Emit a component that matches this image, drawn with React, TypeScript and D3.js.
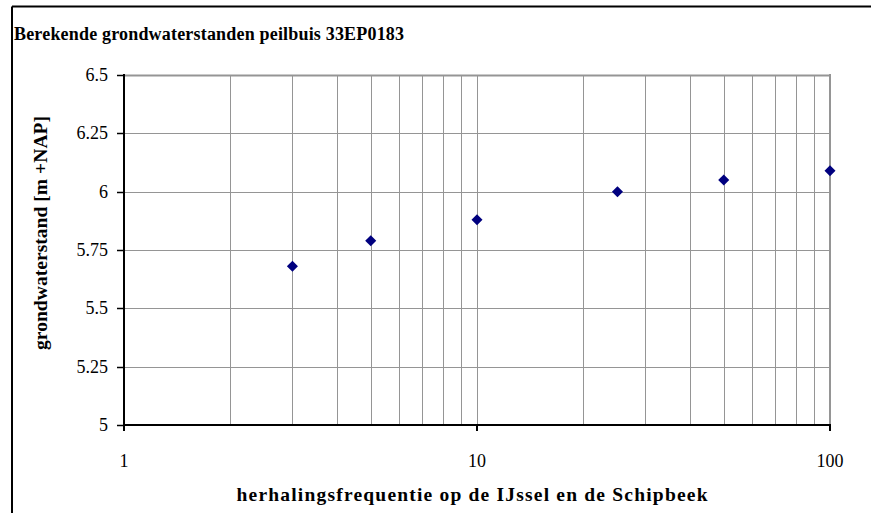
import React from "react";
import * as d3 from "d3";

const frequencies = [3, 5, 10, 25, 50, 100];
const levels = [5.68, 5.79, 5.88, 6.0, 6.05, 6.09];
const yTicks = [5, 5.25, 5.5, 5.75, 6, 6.25, 6.5];
const xMajorTicks = [1, 10, 100];
const titleText = "Berekende grondwaterstanden peilbuis 33EP0183";
const xLabel = "herhalingsfrequentie op de IJssel en de Schipbeek";
const yLabel = "grondwaterstand [m +NAP]";

const W = 871;
const H = 513;
const left = 124;
const right = 830;
const top = 75;
const bottom = 425;
const font = "'Liberation Serif', 'Times New Roman', serif";

export default function App() {
  const x = d3.scaleLog().domain([1, 100]).range([left, right]);
  const y = d3.scaleLinear().domain([5, 6.5]).range([bottom, top]);
  const minor: number[] = [];
  for (const dec of [1, 10]) for (let k = 2; k <= 9; k++) minor.push(dec * k);
  const diamond = d3.symbol().type(d3.symbolDiamond2 || d3.symbolDiamond).size(78)();

  return (
    <svg width={W} height={H} style={{ position: "absolute", left: 0, top: 0 }}>
      <rect x={0} y={0} width={W} height={H} fill="#fff" />
      <line x1={12} y1={6.5} x2={W} y2={6.5} stroke="#000" strokeWidth={2} />
      <line x1={12} y1={6.5} x2={12} y2={H} stroke="#000" strokeWidth={2} />
      <text x={14} y={40} fontFamily={font} fontWeight="bold" fontSize={18} textLength={390} lengthAdjust="spacing" fill="#000">
        {titleText}
      </text>
      {/* horizontal gridlines */}
      {yTicks.map((t) => (
        <line key={"hg" + t} x1={left} x2={right} y1={Math.round(y(t)) + 0.5} y2={Math.round(y(t)) + 0.5} stroke="#959595" strokeWidth={t === 6.5 ? 2 : 1} />
      ))}
      {/* vertical gridlines */}
      {[...minor, 10].map((t) => (
        <line key={"vg" + t} x1={Math.round(x(t)) + 0.5} x2={Math.round(x(t)) + 0.5} y1={top} y2={bottom} stroke="#959595" strokeWidth={1} />
      ))}
      <line x1={right} x2={right} y1={top - 1} y2={bottom} stroke="#959595" strokeWidth={2} />
      {/* axes */}
      <line x1={left} x2={left} y1={top - 1} y2={bottom + 6} stroke="#000" strokeWidth={2} />
      <line x1={left} x2={right + 1} y1={bottom} y2={bottom} stroke="#000" strokeWidth={2} />
      {yTicks.map((t) => (
        <g key={"yt" + t}>
          <line x1={left - 7} x2={left} y1={Math.round(y(t)) + 0.5} y2={Math.round(y(t)) + 0.5} stroke="#000" strokeWidth={1.5} />
          <text x={108} y={y(t) + 6} textAnchor="end" fontFamily={font} fontSize={18} fill="#000">
            {String(t)}
          </text>
        </g>
      ))}
      {xMajorTicks.map((t) => (
        <g key={"xt" + t}>
          <line x1={x(t)} x2={x(t)} y1={bottom} y2={bottom + 6} stroke="#000" strokeWidth={2} />
          <text x={x(t)} y={467} textAnchor="middle" fontFamily={font} fontSize={18} fill="#000">
            {String(t)}
          </text>
        </g>
      ))}
      <text x={472} y={501} textAnchor="middle" fontFamily={font} fontWeight="bold" fontSize={19.5} textLength={471} lengthAdjust="spacing" fill="#000">
        {xLabel}
      </text>
      <text transform={`translate(47,233) rotate(-90)`} textAnchor="middle" fontFamily={font} fontWeight="bold" fontSize={19.5} textLength={234} lengthAdjust="spacing" fill="#000">
        {yLabel}
      </text>
      {frequencies.map((f, i) => (
        <path key={"p" + f} d={diamond!} transform={`translate(${x(f)},${y(levels[i])})`} fill="#00007f" />
      ))}
    </svg>
  );
}
